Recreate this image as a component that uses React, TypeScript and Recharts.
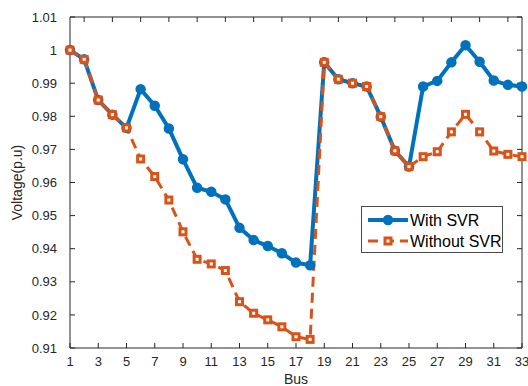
import { LineChart, Line, XAxis, YAxis, Legend, Label } from 'recharts'

const buses = [1, 2, 3, 4, 5, 6, 7, 8, 9, 10, 11, 12, 13, 14, 15, 16, 17, 18, 19, 20, 21, 22, 23, 24, 25, 26, 27, 28, 29, 30, 31, 32, 33]
const withSvr = [
  1.0, 0.9972, 0.9849, 0.9805, 0.9765, 0.9882, 0.9832, 0.9763, 0.967, 0.9584, 0.9572, 0.9549, 0.9463, 0.9426, 0.9408, 0.9386,
  0.9358, 0.935, 0.9963, 0.9912, 0.99, 0.989, 0.9799, 0.9696, 0.9648, 0.989, 0.9907, 0.9963, 1.0015, 0.9965, 0.9908, 0.9895, 0.989,
]
const withoutSvr = [
  1.0, 0.9972, 0.9849, 0.9805, 0.9765, 0.9671, 0.9618, 0.9547, 0.9451, 0.9368, 0.9354, 0.9334, 0.924, 0.9205, 0.9185, 0.9164,
  0.9134, 0.9126, 0.9963, 0.9912, 0.99, 0.989, 0.9799, 0.9696, 0.9648, 0.9678, 0.9693, 0.9753, 0.9806, 0.9753, 0.9695, 0.9685, 0.9678,
]
const xTicks = [1, 3, 5, 7, 9, 11, 13, 15, 17, 19, 21, 23, 25, 27, 29, 31, 33]
const yTicks = [0.91, 0.92, 0.93, 0.94, 0.95, 0.96, 0.97, 0.98, 0.99, 1.0, 1.01]

const data = buses.map((bus, i) => ({ bus, withSvr: withSvr[i], withoutSvr: withoutSvr[i] }))

const BLUE = '#0072BD'
const ORANGE = '#D95319'
const AXIS = '#262626'
const FONT = 'Arial, "Liberation Sans", sans-serif'

const SquareDot = (props: any) => {
  const { cx, cy, index } = props
  if (cx == null || cy == null) return null
  return <rect key={index} x={cx - 3} y={cy - 3} width={6} height={6} fill="#fff" stroke={ORANGE} strokeWidth={3} />
}

const NoLabel = () => <g />

const LegendBox = () => (
  <svg width={142} height={47} style={{ display: 'block' }}>
    <rect x={0.5} y={0.5} width={141} height={46} fill="#fff" stroke="#4a4a4a" strokeWidth={1} />
    <line x1={7} y1={14} x2={47} y2={14} stroke={BLUE} strokeWidth={4} />
    <circle cx={27} cy={14} r={4.5} fill={BLUE} stroke={BLUE} strokeWidth={1.5} />
    <text x={49} y={14} dy="0.36em" fontSize={16} fill="#000" fontFamily={FONT}>With SVR</text>
    <line x1={7} y1={35} x2={47} y2={35} stroke={ORANGE} strokeWidth={3} strokeDasharray="10 6" />
    <rect x={24} y={32} width={6} height={6} fill="#fff" stroke={ORANGE} strokeWidth={3} />
    <text x={49} y={35} dy="0.36em" fontSize={16} fill="#000" fontFamily={FONT}>Without SVR</text>
  </svg>
)

export default function App() {
  return (
    <div style={{ position: 'absolute', left: 0, top: 0, width: 528, height: 386, background: '#fff', fontFamily: FONT }}>
      <LineChart width={528} height={386} data={data} margin={{ top: 16, right: 5, bottom: 0, left: 0 }}>
        <XAxis
          dataKey="bus"
          type="number"
          domain={[1, 33]}
          ticks={xTicks}
          height={38}
          stroke={AXIS}
          tickSize={-5}
          tickMargin={14}
          tick={{ fontSize: 13, fill: AXIS, fontFamily: FONT }}
          interval={0}
        >
          <Label value="Bus" position="insideBottom" offset={2} style={{ fontSize: 14, fill: AXIS, fontFamily: FONT }} />
        </XAxis>
        <XAxis
          xAxisId="top"
          orientation="top"
          type="number"
          domain={[1, 33]}
          allowDataOverflow
          ticks={xTicks}
          height={1}
          stroke={AXIS}
          tickSize={-5}
          tick={NoLabel}
          interval={0}
        />
        <YAxis
          type="number"
          domain={[0.91, 1.01]}
          ticks={yTicks}
          width={70}
          stroke={AXIS}
          tickSize={-5}
          tickMargin={18}
          tick={{ fontSize: 13, fill: AXIS, fontFamily: FONT }}
          tickFormatter={(v: number) => String(Number(v.toFixed(2)))}
          interval={0}
        >
          <Label
            value="Voltage(p.u)"
            angle={-90}
            position="insideLeft"
            offset={17}
            style={{ fontSize: 14, fill: AXIS, fontFamily: FONT, textAnchor: 'middle' }}
          />
        </YAxis>
        <YAxis
          yAxisId="right"
          orientation="right"
          type="number"
          domain={[0.91, 1.01]}
          allowDataOverflow
          ticks={yTicks}
          width={1}
          stroke={AXIS}
          tickSize={-5}
          tick={NoLabel}
          interval={0}
        />
        <Line
          dataKey="withSvr"
          name="With SVR"
          stroke={BLUE}
          strokeWidth={4}
          dot={{ r: 4.5, fill: BLUE, stroke: BLUE, strokeWidth: 1.5 }}
          activeDot={false}
          isAnimationActive={false}
        />
        <Line
          dataKey="withoutSvr"
          name="Without SVR"
          stroke={ORANGE}
          strokeWidth={3}
          strokeDasharray="10 6"
          dot={SquareDot}
          activeDot={false}
          isAnimationActive={false}
        />
        <Legend
          layout="horizontal"
          verticalAlign="middle"
          align="center"
          content={LegendBox}
          wrapperStyle={{ left: 361, top: 206, width: 142, height: 47 }}
        />
      </LineChart>
    </div>
  )
}
